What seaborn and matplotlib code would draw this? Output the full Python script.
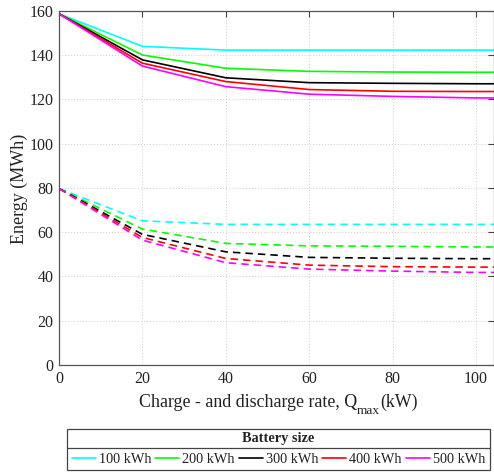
import numpy as np
import pandas as pd
import matplotlib
matplotlib.use("Agg")
import matplotlib.pyplot as plt
from matplotlib.lines import Line2D
from matplotlib.patches import Rectangle
import seaborn as sns

# Charge/discharge rate (kW)
rate = [0, 20, 40, 60, 80, 100, 104.3]

# Battery sizes
sizes = ["100 kWh", "200 kWh", "300 kWh", "400 kWh", "500 kWh"]
colors = ["#00ffff", "#00ff00", "#000000", "#ff0000", "#ff00ff"]

# Upper curves (solid), MWh
upper_100 = [158.6, 143.9, 142.2, 142.2, 142.2, 142.2, 142.2]
upper_200 = [158.6, 140.0, 134.0, 132.6, 132.3, 132.2, 132.2]
upper_300 = [158.6, 137.8, 129.7, 127.5, 127.2, 127.0, 127.0]
upper_400 = [158.6, 136.3, 128.0, 124.4, 123.6, 123.5, 123.5]
upper_500 = [158.6, 135.0, 125.7, 122.3, 121.3, 120.6, 120.6]

# Lower curves (dashed), MWh
lower_100 = [79.7, 65.1, 63.5, 63.5, 63.5, 63.5, 63.5]
lower_200 = [79.7, 61.4, 54.9, 53.8, 53.6, 53.3, 53.3]
lower_300 = [79.7, 59.0, 51.1, 48.6, 48.2, 48.0, 48.0]
lower_400 = [79.7, 57.6, 48.1, 45.1, 44.4, 44.2, 44.2]
lower_500 = [79.7, 56.4, 46.2, 43.3, 42.4, 41.8, 41.8]

upper = [upper_100, upper_200, upper_300, upper_400, upper_500]
lower = [lower_100, lower_200, lower_300, lower_400, lower_500]

rows = []
for s, u, l in zip(sizes, upper, lower):
    for x, yu, yl in zip(rate, u, l):
        rows.append({"rate": x, "energy": yu, "size": s, "curve": "upper"})
        rows.append({"rate": x, "energy": yl, "size": s, "curve": "lower"})
df = pd.DataFrame(rows)

sns.set_theme(style="white")
plt.rcParams["font.family"] = ["Liberation Serif", "DejaVu Serif"]

W, H = 494, 472
fig = plt.figure(figsize=(W / 100, H / 100), dpi=100)
ax = fig.add_axes([59 / W, 1 - 365 / H, 1 - 59 / W, (365 - 10.7) / H])

sns.lineplot(
    data=df, x="rate", y="energy", hue="size", style="curve",
    hue_order=sizes, palette=colors, style_order=["upper", "lower"],
    dashes={"upper": "", "lower": (4.5, 3)}, linewidth=1.2,
    legend=False, ax=ax, sort=True,
)

ax.set_xlim(0, 104.3)
ax.set_ylim(0, 160)
ax.set_xticks([0, 20, 40, 60, 80, 100])
ax.set_yticks(np.arange(0, 161, 20))
ax.set_xlabel("")
ax.set_ylabel("")
ax.grid(True, linestyle=(0, (1, 2)), color="#cccccc", linewidth=0.7)
ax.tick_params(direction="in", length=4, width=0.8, color="#444444",
               top=True, right=True, labelsize=11.5, labelcolor="#222222", pad=4)
for sp in ax.spines.values():
    sp.set_color("#555555")
    sp.set_linewidth(0.9)

# Axis titles
txt_color = "#222222"
fig.text(19 / W, 1 - 188.5 / H, "Energy (MWh)", rotation=90, ha="center",
         va="center", fontsize=13.0, color=txt_color)

# x title built from pieces so the subscript sits well below the baseline
label_fs = 12.9
renderer = fig.canvas.get_renderer()
base_y = 1 - 407 / H
sub_y = 1 - 414 / H
parts = [("Charge - and discharge rate, Q", label_fs, base_y),
         ("max", label_fs * 0.75, sub_y),
         ("(kW)", label_fs, base_y)]
objs = []
for s, fs, yy in parts:
    objs.append(fig.text(0, yy, s, fontsize=fs, color=txt_color,
                         ha="left", va="baseline"))
widths = [o.get_window_extent(renderer).width for o in objs]
x_px = 278 - sum(widths) / 2
for o, w in zip(objs, widths):
    o.set_x(x_px / W)
    x_px += w

# Legend box with title row
x0, x1 = 67 / W, 490 / W
y_top, y_sep, y_bot = 1 - 429.3 / H, 1 - 448.3 / H, 1 - 470 / H
fig.add_artist(Rectangle((x0, y_bot), x1 - x0, y_top - y_bot,
                         transform=fig.transFigure, fill=False,
                         edgecolor="#444444", linewidth=0.9))
fig.add_artist(Line2D([x0, x1], [y_sep, y_sep], transform=fig.transFigure,
                      color="#444444", linewidth=0.9))
fig.text((x0 + x1) / 2, (y_top + y_sep) / 2, "Battery size", ha="center",
         va="center", fontsize=10.3, fontweight="bold", color=txt_color)

handles = [Line2D([], [], color=c, linewidth=1.2) for c in colors]
fig.legend(handles, sizes, ncol=5, loc="center", frameon=False,
           bbox_to_anchor=((x0 + x1) / 2, (y_sep + y_bot) / 2),
           fontsize=10.3, handlelength=1.68, handletextpad=0.2,
           columnspacing=0.28, borderpad=0, labelcolor=txt_color)

fig.savefig("out.png", dpi=100)
